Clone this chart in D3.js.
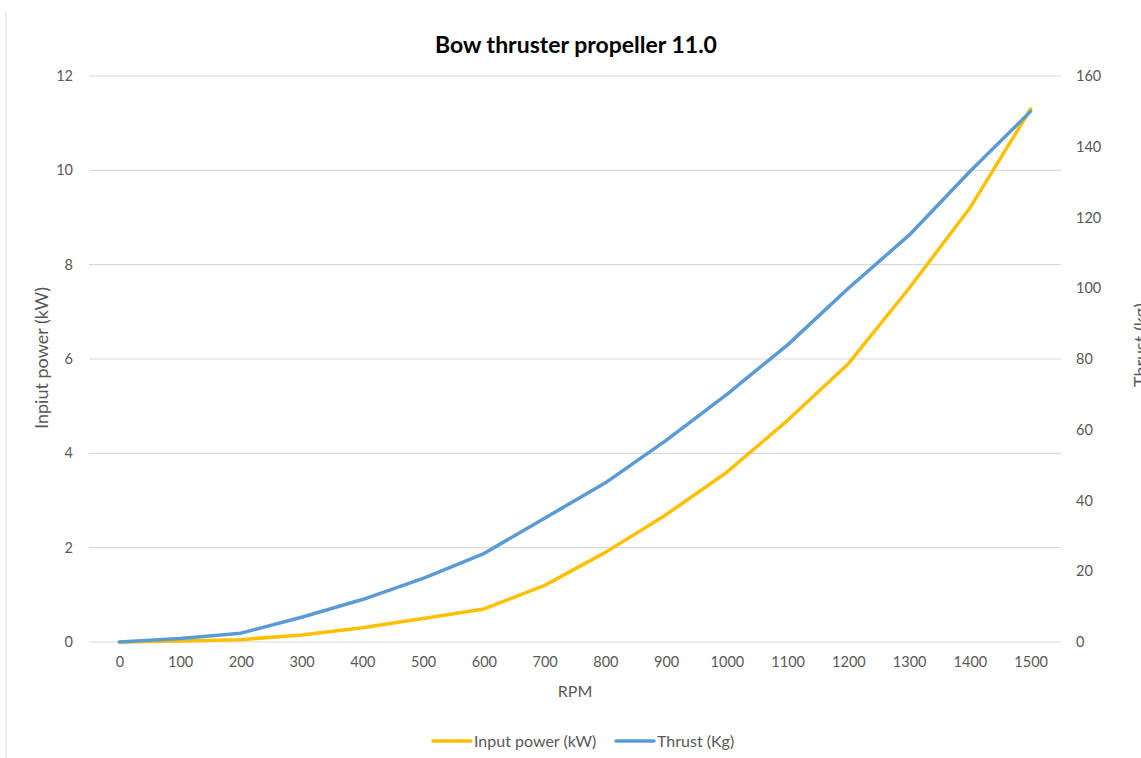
<!DOCTYPE html>
<html><head><meta charset="utf-8">
<script src="https://cdn.jsdelivr.net/npm/d3@7"></script>
<style>
html,body{margin:0;padding:0;background:#fff;}
svg{display:block;font-family:Lato, "Open Sans", sans-serif;}
</style></head>
<body>
<svg id="chart" width="1141" height="758"></svg>
<script>
const rpm = [0,100,200,300,400,500,600,700,800,900,1000,1100,1200,1300,1400,1500];
const inputPower = [0,0.02,0.05,0.15,0.3,0.5,0.7,1.2,1.9,2.7,3.6,4.7,5.9,7.5,9.2,11.3];
const thrust = [0,1,2.5,7,12,18,25,35,45,57,70,84,100,115,133,150];
const leftTicks = [0,2,4,6,8,10,12];
const rightTicks = [0,20,40,60,80,100,120,140,160];
const seriesNames = ["Input power (kW)","Thrust (Kg)"];
const colors = ["#FFC000","#5B9BD5"];

const svg = d3.select("#chart");
const m = {left:89, right:1061, top:76, bottom:642};

// frame line on the left
svg.append("line").attr("x1",6).attr("x2",6).attr("y1",11).attr("y2",758)
  .attr("stroke","#d9d9d9").attr("stroke-width",1);

const x = d3.scalePoint().domain(rpm).range([m.left, m.right]).padding(0.5);
const yL = d3.scaleLinear().domain([0,12]).range([m.bottom, m.top]);
const yR = d3.scaleLinear().domain([0,160]).range([m.bottom, m.top]);

// gridlines
svg.append("g").selectAll("line").data(leftTicks).join("line")
  .attr("x1",m.left).attr("x2",m.right)
  .attr("y1",d=>yL(d)).attr("y2",d=>yL(d))
  .attr("stroke","#d9d9d9").attr("stroke-width",1.2);

// left axis
const gl = svg.append("g").attr("transform",`translate(${m.left},0)`)
  .call(d3.axisLeft(yL).tickValues(leftTicks).tickSize(0).tickPadding(16));
gl.select(".domain").remove();
gl.selectAll("text").attr("fill","#595959").style("font-size","14.5px").style("font-family","Lato, sans-serif");

// right axis
const gr = svg.append("g").attr("transform",`translate(${m.right},0)`)
  .call(d3.axisRight(yR).tickValues(rightTicks).tickSize(0).tickPadding(15));
gr.select(".domain").remove();
gr.selectAll("text").attr("fill","#595959").style("font-size","14.5px").style("font-family","Lato, sans-serif");

// bottom axis
const gb = svg.append("g").attr("transform",`translate(0,${m.bottom})`)
  .call(d3.axisBottom(x).tickSize(0).tickPadding(15));
gb.select(".domain").remove();
gb.selectAll("text").attr("fill","#595959").style("font-size","14.5px").style("font-family","Lato, sans-serif");

// lines
const lineL = d3.line().x((d,i)=>x(rpm[i])).y(d=>yL(d));
const lineR = d3.line().x((d,i)=>x(rpm[i])).y(d=>yR(d));
svg.append("path").datum(inputPower).attr("d",lineL)
  .attr("fill","none").attr("stroke",colors[0]).attr("stroke-width",3.5).attr("stroke-linejoin","round").attr("stroke-linecap","round");
svg.append("path").datum(thrust).attr("d",lineR)
  .attr("fill","none").attr("stroke",colors[1]).attr("stroke-width",3.5).attr("stroke-linejoin","round").attr("stroke-linecap","round");

// title
svg.append("text").attr("x",576).attr("y",53).attr("text-anchor","middle")
  .style("font-size","23px").style("font-weight","bold").attr("fill","#000")
  .text("Bow thruster propeller 11.0");

// axis titles
svg.append("text").attr("x",575).attr("y",697).attr("text-anchor","middle")
  .style("font-size","16px").attr("fill","#595959").text("RPM");
svg.append("text").attr("transform",`translate(48,358) rotate(-90)`).attr("text-anchor","middle")
  .style("font-size","18px").attr("fill","#595959").text("Inpiut power (kW)");
svg.append("text").attr("transform",`translate(1147,345) rotate(-90)`).attr("text-anchor","middle")
  .style("font-size","18px").attr("fill","#595959").text("Thrust (kg)");

// legend
const legX = [433, 616];
const lg = svg.append("g");
seriesNames.forEach((n,i)=>{
  lg.append("line").attr("x1",legX[i]).attr("x2",legX[i]+38).attr("y1",741).attr("y2",741)
    .attr("stroke",colors[i]).attr("stroke-width",3.5).attr("stroke-linecap","round");
  lg.append("text").attr("x",legX[i]+41).attr("y",746.5).style("font-size","16px")
    .attr("fill","#595959").text(n);
});
</script>
</body></html>
